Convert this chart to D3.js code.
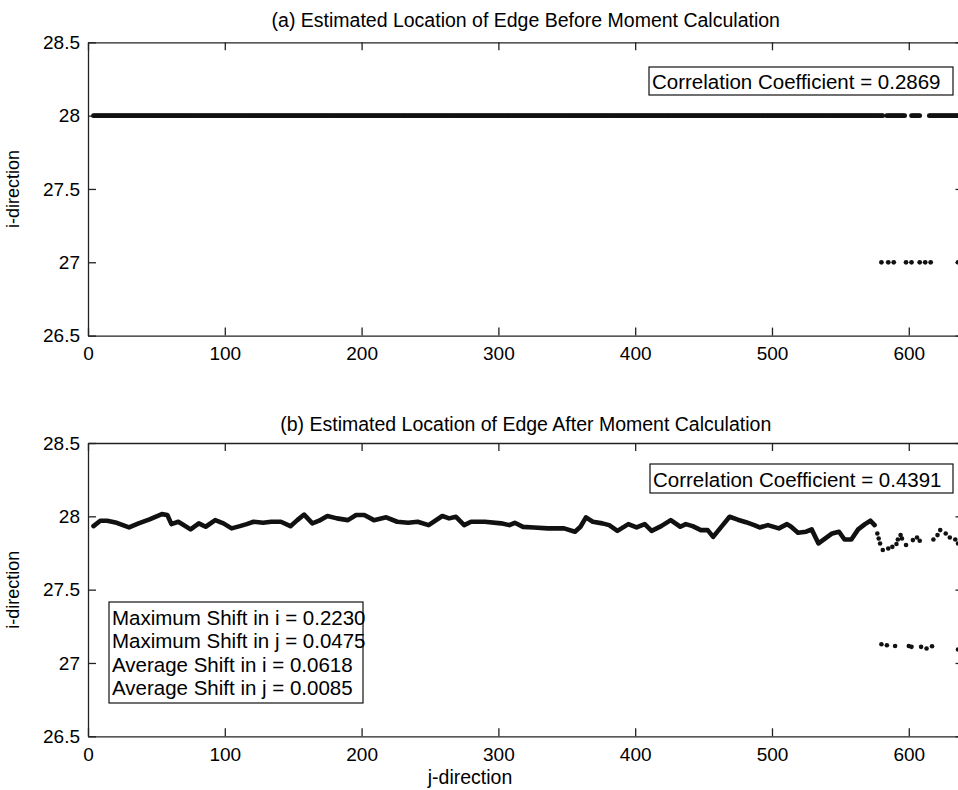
<!DOCTYPE html>
<html><head><meta charset="utf-8">
<script src="https://cdn.jsdelivr.net/npm/d3@7"></script>
<style>
html,body{margin:0;padding:0;background:#fff;}
svg{display:block;font-family:Arial,"Liberation Sans",sans-serif;}
</style></head>
<body><svg id="c" width="958" height="790"></svg>
<script>
// ---------- data ----------
const jTicks = [0,100,200,300,400,500,600];
const iTicks = [26.5,27,27.5,28,28.5];
const iTickLabels = ["26.5","27","27.5","28","28.5"];

// (a) before moment calculation: runs of j at i = 28, and individual j at i = 27
const topRunStart = [4, 584, 602, 615];
const topRunEnd   = [581, 597, 608, 640];
const topRunValue = [28, 28, 28, 28];
const top27J = [580, 585, 589, 598, 602, 608, 612, 616, 636];

// (b) after moment calculation: continuous part
const botLineJ = [4,9,14,21,30,37,45,54,58,61,66,75,81,86,93,99,105,111,116,121,128,134,141,148,153,158,164,169,175,182,190,196,202,209,218,226,234,241,249,259,264,269,275,280,290,302,308,312,318,326,336,348,356,360,364,369,376,381,387,395,401,407,412,419,426,433,437,442,448,453,457,461,464,469,475,481,487,491,497,505,511,514,519,525,529,534,539,544,549,553,558,563,568,572,575];
const botLineI = [27.933,27.970,27.970,27.956,27.924,27.952,27.979,28.015,28.009,27.947,27.963,27.911,27.952,27.929,27.974,27.952,27.918,27.933,27.947,27.963,27.956,27.963,27.963,27.933,27.974,28.012,27.952,27.970,28.002,27.986,27.974,28.009,28.009,27.974,27.993,27.963,27.956,27.963,27.940,28.002,27.986,27.997,27.940,27.963,27.963,27.952,27.940,27.956,27.928,27.924,27.918,27.918,27.895,27.929,27.993,27.963,27.952,27.940,27.901,27.947,27.924,27.947,27.901,27.933,27.974,27.929,27.947,27.933,27.906,27.906,27.860,27.906,27.940,27.997,27.977,27.960,27.940,27.924,27.940,27.918,27.947,27.929,27.888,27.895,27.911,27.815,27.849,27.883,27.895,27.842,27.842,27.911,27.947,27.970,27.940];
// (b) scattered points after j = 575
const botDotJ = [577,578,579,581,585,588,591,592,594,595,598,603,606,608,618,621,623,627,630,634,636];
const botDotI = [27.883,27.849,27.815,27.770,27.781,27.792,27.811,27.842,27.872,27.849,27.804,27.838,27.856,27.833,27.842,27.872,27.906,27.883,27.856,27.842,27.815];
const botLowJ = [580,584,590,600,602,609,613,617,636];
const botLowI = [27.128,27.121,27.116,27.116,27.110,27.110,27.099,27.114,27.092];

const titleA = "(a) Estimated Location of Edge Before Moment Calculation";
const titleB = "(b) Estimated Location of Edge After Moment Calculation";
const corrA = "Correlation Coefficient = 0.2869";
const corrB = "Correlation Coefficient = 0.4391";
const shiftLines = ["Maximum Shift in i = 0.2230","Maximum Shift in j = 0.0475","Average Shift in i = 0.0618","Average Shift in j = 0.0085"];

// ---------- drawing ----------
const svg = d3.select("#c");
const X0 = 88, X1 = 963.5;
const x = d3.scaleLinear().domain([0,640]).range([X0,X1]);
const panels = [
  {top:42.3, bottom:335.6, title:titleA, titleY:27},
  {top:443, bottom:736.3, title:titleB, titleY:431}
];
const ink = "#111";

function drawAxes(p){
  const y = d3.scaleLinear().domain([26.5,28.5]).range([p.bottom,p.top]);
  p.y = y;
  const g = svg.append("g");
  const styleAxis = sel => {
    sel.selectAll("path.domain").attr("stroke","#222").attr("stroke-width",1.3);
    sel.selectAll(".tick line").attr("stroke","#222").attr("stroke-width",1.3);
    sel.selectAll("text").attr("fill","#000").attr("font-size",19).attr("font-family","Arial, 'Liberation Sans', sans-serif");
  };
  g.append("g").attr("transform",`translate(0,${p.bottom})`)
    .call(d3.axisBottom(x).tickValues(jTicks).tickSizeInner(-8).tickSizeOuter(0).tickPadding(11).tickFormat(d3.format("d")))
    .call(styleAxis);
  g.append("g").attr("transform",`translate(0,${p.top})`)
    .call(d3.axisTop(x).tickValues(jTicks).tickSizeInner(-8).tickSizeOuter(0).tickFormat(""))
    .call(styleAxis);
  g.append("g").attr("transform",`translate(${X0},0)`)
    .call(d3.axisLeft(y).tickValues(iTicks).tickSizeInner(-8).tickSizeOuter(0).tickPadding(8).tickFormat((d,i)=>iTickLabels[i]))
    .call(styleAxis);
  g.append("g").attr("transform",`translate(${X1},0)`)
    .call(d3.axisRight(y).tickValues(iTicks).tickSizeInner(-8).tickSizeOuter(0).tickFormat(""))
    .call(styleAxis);
  g.selectAll(".domain").attr("fill","none");

  svg.append("text").attr("x",(X0+X1)/2).attr("y",p.titleY).attr("text-anchor","middle")
    .attr("font-size",19.5).attr("fill","#000").text(p.title);
  svg.append("text").attr("transform",`translate(19,${(p.top+p.bottom)/2}) rotate(-90)`)
    .attr("text-anchor","middle").attr("font-size",18).attr("fill","#000").text("i-direction");
}
panels.forEach(drawAxes);

svg.append("text").attr("x",470).attr("y",784).attr("text-anchor","middle")
  .attr("font-size",19.5).attr("fill","#000").text("j-direction");

// ---- panel (a) points
const pa = panels[0];
const topPts = [];
topRunStart.forEach((s,k)=>{ for(let j=s;j<=topRunEnd[k];j++) topPts.push({j, i:topRunValue[k]}); });
top27J.forEach(j=>topPts.push({j, i:27}));
svg.append("g").selectAll("circle").data(topPts).join("circle")
  .attr("cx",d=>x(d.j)).attr("cy",d=>pa.y(d.i)).attr("r",2.4).attr("fill",ink);

// ---- panel (b)
const pb = panels[1];
const lineData = botLineJ.map((j,k)=>({j, i:botLineI[k]}));
svg.append("path").datum(lineData)
  .attr("d", d3.line().x(d=>x(d.j)).y(d=>pb.y(d.i)))
  .attr("fill","none").attr("stroke",ink).attr("stroke-width",4.6)
  .attr("stroke-linejoin","round").attr("stroke-linecap","round");
const dots = botDotJ.map((j,k)=>({j,i:botDotI[k]})).concat(botLowJ.map((j,k)=>({j,i:botLowI[k]})));
svg.append("g").selectAll("circle").data(dots).join("circle")
  .attr("cx",d=>x(d.j)).attr("cy",d=>pb.y(d.i)).attr("r",2.3).attr("fill",ink);

// ---- text boxes
function textBox(lines, left, top, right, bottom, firstBaseline, lineStep){
  const g = svg.append("g");
  g.append("rect").attr("x",left).attr("y",top).attr("width",right-left).attr("height",bottom-top)
    .attr("fill","#fff").attr("stroke","#111").attr("stroke-width",1.2);
  lines.forEach((t,k)=>{
    g.append("text").attr("x",left+3).attr("y",firstBaseline+k*lineStep)
      .attr("font-size",20.5).attr("fill","#000").text(t);
  });
}
textBox([corrA], 649, 67, 953, 95, 88.5, 0);
textBox([corrB], 650, 464, 953, 493, 486.5, 0);
textBox(shiftLines, 109, 602, 363, 703, 624.5, 23.5);
</script></body></html>
